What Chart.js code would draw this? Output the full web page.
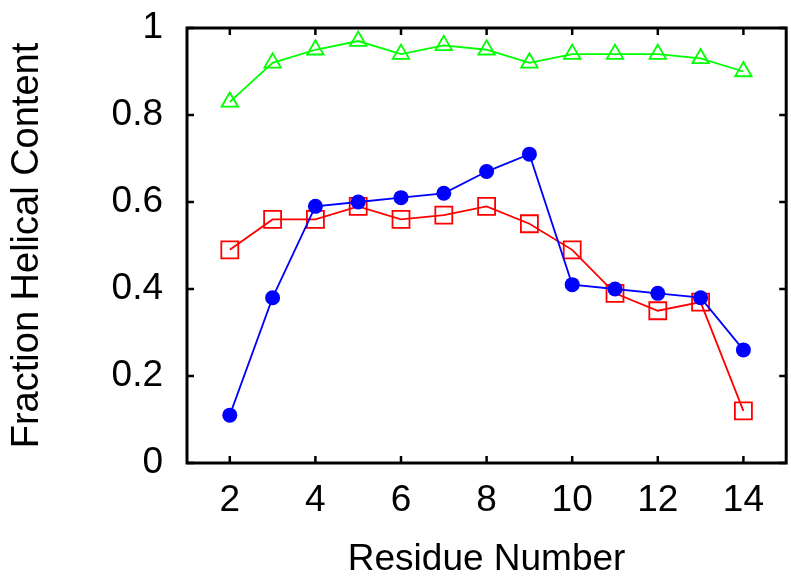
<!DOCTYPE html>
<html lang="en">
<head>
<meta charset="UTF-8" />
<title>Fraction Helical Content</title>
<script src="https://cdn.jsdelivr.net/npm/chart.js"></script>
<style>
  html, body { margin: 0; padding: 0; background: #fff; overflow: hidden; }
  #wrap { width: 800px; height: 578px; position: relative; }
</style>
</head>
<body>
<div id="wrap"><canvas id="chart" width="800" height="578"></canvas></div>
<script>
// residue numbers and helical fraction per series
const residues = [2, 3, 4, 5, 6, 7, 8, 9, 10, 11, 12, 13, 14];
const greenTriangles = [0.83, 0.92, 0.95, 0.97, 0.94, 0.96, 0.95, 0.92, 0.94, 0.94, 0.94, 0.93, 0.90];
const blueCircles = [0.11, 0.38, 0.59, 0.60, 0.61, 0.62, 0.67, 0.71, 0.41, 0.40, 0.39, 0.38, 0.26];
const redSquares = [0.49, 0.56, 0.56, 0.59, 0.56, 0.57, 0.59, 0.55, 0.49, 0.39, 0.35, 0.37, 0.12];

const xTicks = [2, 4, 6, 8, 10, 12, 14];
const yTicks = [0, 0.2, 0.4, 0.6, 0.8, 1];
const yTickLabels = ['0', '0.2', '0.4', '0.6', '0.8', '1'];

const FONT = '"Liberation Sans", Arial, Helvetica, sans-serif';

function points(ys) {
  return residues.map((x, i) => ({ x, y: ys[i] }));
}

// box around the plot with inward ticks on all four sides
const frame = {
  id: 'frame',
  afterDatasetsDraw(chart) {
    const { ctx, chartArea: a, scales } = chart;
    const len = 7;
    ctx.save();
    ctx.strokeStyle = '#000';
    ctx.lineWidth = 2.5;
    ctx.beginPath();
    for (const v of xTicks) {
      const px = scales.x.getPixelForValue(v);
      ctx.moveTo(px, a.bottom); ctx.lineTo(px, a.bottom - len);
      ctx.moveTo(px, a.top); ctx.lineTo(px, a.top + len);
    }
    for (const v of yTicks) {
      const py = scales.y.getPixelForValue(v);
      ctx.moveTo(a.left, py); ctx.lineTo(a.left + len, py);
      ctx.moveTo(a.right, py); ctx.lineTo(a.right - len, py);
    }
    ctx.stroke();
    ctx.lineWidth = 3;
    ctx.strokeRect(a.left, a.top, a.right - a.left, a.bottom - a.top);
    ctx.restore();
  }
};

new Chart(document.getElementById('chart'), {
  type: 'line',
  data: {
    datasets: [
      {
        label: 'blue',
        data: points(blueCircles),
        borderColor: '#0000ff',
        backgroundColor: '#0000ff',
        borderWidth: 1.8,
        pointStyle: 'circle',
        pointRadius: 7.5,
        pointBorderWidth: 0,
        tension: 0
      },
      {
        label: 'red',
        data: points(redSquares),
        borderColor: '#ff0000',
        backgroundColor: 'rgba(0,0,0,0)',
        borderWidth: 1.8,
        pointStyle: 'rect',
        pointRadius: 12,
        pointBorderWidth: 1.8,
        tension: 0
      },
      {
        label: 'green',
        data: points(greenTriangles),
        borderColor: '#00ff00',
        backgroundColor: 'rgba(0,0,0,0)',
        borderWidth: 1.8,
        pointStyle: 'triangle',
        pointRadius: 9.5,
        pointBorderWidth: 1.8,
        tension: 0
      }
    ]
  },
  options: {
    responsive: false,
    animation: false,
    maintainAspectRatio: false,
    layout: { padding: { top: 28, right: 7, left: 0, bottom: 0 } },
    plugins: { legend: { display: false }, tooltip: { enabled: false } },
    scales: {
      x: {
        type: 'linear',
        min: 1,
        max: 15,
        afterBuildTicks: s => { s.ticks = xTicks.map(v => ({ value: v })); },
        afterFit: s => { s.height = 115; s.paddingLeft = 0; s.paddingRight = 0; },
        grid: { display: false, drawTicks: false },
        border: { display: false },
        ticks: { color: '#000', padding: 16, maxRotation: 0, font: { family: FONT, size: 37 } },
        title: {
          display: true,
          text: 'Residue Number',
          color: '#000',
          padding: { top: 0, bottom: 0 },
          font: { family: FONT, size: 37, lineHeight: 1 }
        }
      },
      y: {
        type: 'linear',
        min: 0,
        max: 1,
        afterBuildTicks: s => { s.ticks = yTicks.map(v => ({ value: v })); },
        afterFit: s => { s.width = 187; s.paddingTop = 0; s.paddingBottom = 0; },
        grid: { display: false, drawTicks: false },
        border: { display: false },
        ticks: {
          color: '#000',
          padding: 24,
          font: { family: FONT, size: 37 },
          callback: (v, i) => yTickLabels[i]
        },
        title: {
          display: true,
          text: 'Fraction Helical Content',
          color: '#000',
          padding: { top: 5, bottom: 0 },
          font: { family: FONT, size: 38 }
        }
      }
    }
  },
  plugins: [frame]
});
</script>
</body>
</html>
